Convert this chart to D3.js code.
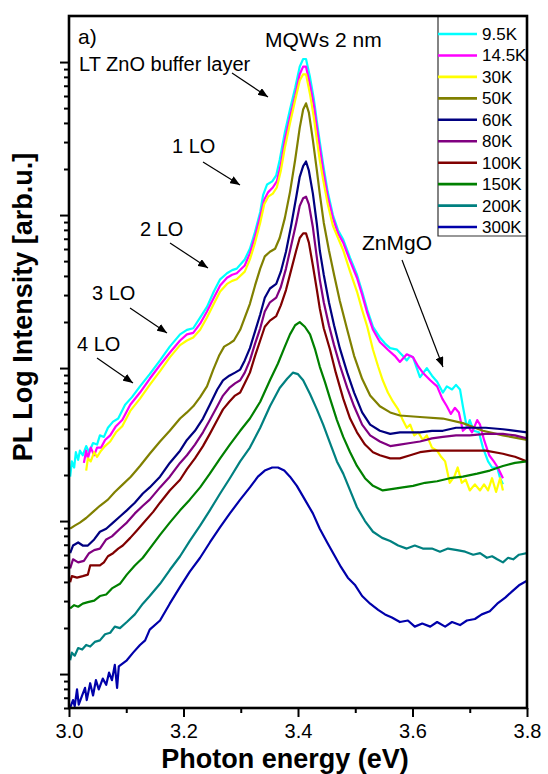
<!DOCTYPE html>
<html>

<head>
    <meta charset="utf-8">
    <title>PL spectra, MQWs 2 nm</title>
    <script src="https://d3js.org/d3.v7.min.js"></script>
    <style>
        body { margin: 0; background: #fff; }
        svg text { font-family: "Liberation Sans", Arial, sans-serif; fill: #000; }
    </style>
</head>

<body>
    <div id="chart"></div>

    <script>
        // legend entries, in the order of the legend
        const temps = ["9.5K", "14.5K", "30K", "50K", "60K", "80K", "100K", "150K", "200K", "300K"];
        const lineColors = ["#00ffff", "#ff00ff", "#ffff00", "#808000", "#000080",
            "#800080", "#800000", "#008000", "#008080", "#0000aa"];

        // spectra: [photon energy (eV), log10 of PL intensity (arb.u.)]
        const s9_5K = [[3.002, 1.29], [3.005, 1.39], [3.009, 1.35], [3.012, 1.45], [3.016, 1.40], [3.019, 1.46],
        [3.024, 1.43], [3.030, 1.49], [3.035, 1.45], [3.042, 1.51], [3.049, 1.50], [3.054, 1.56], [3.061, 1.55],
        [3.068, 1.61], [3.077, 1.65], [3.086, 1.67], [3.098, 1.76], [3.110, 1.81], [3.124, 1.88], [3.141, 1.96],
        [3.159, 2.05], [3.176, 2.14], [3.194, 2.22], [3.206, 2.25], [3.217, 2.26], [3.229, 2.33], [3.241, 2.40],
        [3.253, 2.50], [3.264, 2.58], [3.276, 2.62], [3.285, 2.64], [3.293, 2.65], [3.307, 2.71], [3.316, 2.78],
        [3.325, 2.89], [3.334, 3.02], [3.339, 3.13], [3.346, 3.20], [3.355, 3.22], [3.362, 3.26], [3.368, 3.36],
        [3.377, 3.54], [3.386, 3.69], [3.395, 3.83], [3.403, 3.97], [3.409, 4.02], [3.414, 4.02], [3.421, 3.90],
        [3.428, 3.75], [3.433, 3.61], [3.438, 3.48], [3.444, 3.33], [3.452, 3.15], [3.461, 3.00], [3.470, 2.90],
        [3.479, 2.84], [3.491, 2.72], [3.503, 2.61], [3.512, 2.50], [3.521, 2.38], [3.531, 2.27], [3.543, 2.20],
        [3.552, 2.16], [3.561, 2.13], [3.573, 2.12], [3.583, 2.08], [3.590, 2.05], [3.596, 2.08], [3.601, 2.07],
        [3.613, 1.94], [3.625, 2.00], [3.634, 1.95], [3.643, 1.91], [3.653, 1.84], [3.660, 1.88], [3.669, 1.86],
        [3.676, 1.89], [3.683, 1.86], [3.688, 1.75], [3.695, 1.61], [3.700, 1.66], [3.707, 1.59], [3.716, 1.58],
        [3.723, 1.48], [3.732, 1.39], [3.739, 1.35], [3.748, 1.35], [3.753, 1.28], [3.758, 1.24]];

        const s14_5K = [[3.026, 1.38], [3.030, 1.46], [3.033, 1.41], [3.038, 1.48], [3.044, 1.43], [3.049, 1.48],
        [3.056, 1.48], [3.063, 1.53], [3.072, 1.56], [3.082, 1.62], [3.093, 1.66], [3.107, 1.76], [3.124, 1.84],
        [3.141, 1.93], [3.159, 2.02], [3.176, 2.10], [3.194, 2.18], [3.206, 2.22], [3.217, 2.23], [3.229, 2.29],
        [3.241, 2.37], [3.253, 2.46], [3.264, 2.54], [3.276, 2.59], [3.285, 2.61], [3.293, 2.62], [3.307, 2.67],
        [3.316, 2.75], [3.325, 2.86], [3.334, 2.99], [3.341, 3.10], [3.348, 3.15], [3.356, 3.18], [3.363, 3.22],
        [3.370, 3.33], [3.377, 3.49], [3.386, 3.64], [3.395, 3.78], [3.403, 3.92], [3.409, 3.97], [3.414, 3.97],
        [3.421, 3.85], [3.428, 3.71], [3.433, 3.57], [3.438, 3.44], [3.444, 3.29], [3.452, 3.12], [3.461, 2.98],
        [3.470, 2.88], [3.479, 2.82], [3.491, 2.70], [3.503, 2.59], [3.512, 2.48], [3.521, 2.36], [3.531, 2.25],
        [3.543, 2.17], [3.557, 2.12], [3.569, 2.08], [3.578, 2.04], [3.590, 2.09], [3.601, 2.07], [3.610, 2.01],
        [3.618, 1.97], [3.631, 1.92], [3.643, 1.88], [3.652, 1.80], [3.660, 1.75], [3.667, 1.70], [3.674, 1.74],
        [3.681, 1.71], [3.688, 1.59], [3.697, 1.62], [3.704, 1.58], [3.713, 1.66], [3.718, 1.63], [3.725, 1.53],
        [3.734, 1.43], [3.742, 1.39], [3.749, 1.35], [3.758, 1.28]];

        const s30K = [[3.030, 1.33], [3.033, 1.41], [3.038, 1.39], [3.044, 1.45], [3.049, 1.42], [3.056, 1.46],
        [3.063, 1.49], [3.072, 1.52], [3.082, 1.58], [3.093, 1.62], [3.107, 1.72], [3.124, 1.80], [3.141, 1.89],
        [3.159, 1.98], [3.176, 2.07], [3.194, 2.15], [3.206, 2.18], [3.217, 2.20], [3.229, 2.25], [3.241, 2.33],
        [3.253, 2.42], [3.264, 2.50], [3.276, 2.55], [3.285, 2.57], [3.293, 2.58], [3.307, 2.63], [3.316, 2.71],
        [3.325, 2.82], [3.334, 2.95], [3.341, 3.07], [3.348, 3.12], [3.356, 3.14], [3.363, 3.18], [3.370, 3.29],
        [3.377, 3.44], [3.386, 3.60], [3.395, 3.75], [3.403, 3.88], [3.409, 3.92], [3.414, 3.92], [3.421, 3.79],
        [3.428, 3.63], [3.433, 3.49], [3.438, 3.36], [3.444, 3.23], [3.452, 3.07], [3.461, 2.93], [3.470, 2.85],
        [3.479, 2.77], [3.491, 2.63], [3.503, 2.50], [3.512, 2.38], [3.521, 2.27], [3.531, 2.12], [3.540, 2.01],
        [3.548, 1.92], [3.557, 1.84], [3.566, 1.78], [3.575, 1.73], [3.583, 1.66], [3.590, 1.61], [3.596, 1.63],
        [3.603, 1.56], [3.610, 1.58], [3.618, 1.53], [3.625, 1.56], [3.634, 1.48], [3.643, 1.46], [3.650, 1.42],
        [3.657, 1.39], [3.665, 1.25], [3.673, 1.29], [3.679, 1.35], [3.686, 1.25], [3.693, 1.27], [3.700, 1.20],
        [3.709, 1.24], [3.718, 1.20], [3.725, 1.24], [3.732, 1.20], [3.739, 1.28], [3.746, 1.19], [3.753, 1.28],
        [3.758, 1.20]];

        const s50K = [[3.002, 0.95], [3.010, 0.97], [3.019, 0.99], [3.030, 1.02], [3.042, 1.06], [3.054, 1.10],
        [3.068, 1.14], [3.080, 1.19], [3.094, 1.24], [3.108, 1.29], [3.124, 1.36], [3.141, 1.44], [3.159, 1.52],
        [3.176, 1.59], [3.194, 1.67], [3.206, 1.71], [3.217, 1.75], [3.229, 1.81], [3.241, 1.88], [3.252, 1.99],
        [3.262, 2.08], [3.271, 2.14], [3.280, 2.16], [3.288, 2.18], [3.299, 2.25], [3.307, 2.33], [3.316, 2.42],
        [3.325, 2.54], [3.334, 2.65], [3.342, 2.73], [3.351, 2.76], [3.360, 2.78], [3.368, 2.85], [3.377, 2.98],
        [3.386, 3.15], [3.395, 3.36], [3.403, 3.57], [3.409, 3.69], [3.414, 3.73], [3.419, 3.67], [3.426, 3.49],
        [3.433, 3.29], [3.438, 3.14], [3.445, 2.95], [3.454, 2.77], [3.463, 2.61], [3.473, 2.44], [3.486, 2.25],
        [3.498, 2.08], [3.512, 1.93], [3.526, 1.82], [3.543, 1.75], [3.561, 1.71], [3.578, 1.69], [3.613, 1.68],
        [3.653, 1.67], [3.688, 1.64], [3.723, 1.59], [3.758, 1.56], [3.800, 1.53]];

        const s60K = [[3.002, 0.79], [3.007, 0.84], [3.016, 0.86], [3.024, 0.84], [3.033, 0.84], [3.044, 0.88],
        [3.054, 0.93], [3.065, 0.95], [3.077, 0.99], [3.089, 1.03], [3.101, 1.07], [3.115, 1.12], [3.129, 1.18],
        [3.141, 1.22], [3.159, 1.29], [3.176, 1.38], [3.194, 1.46], [3.206, 1.53], [3.220, 1.59], [3.234, 1.67],
        [3.246, 1.76], [3.259, 1.86], [3.269, 1.92], [3.280, 1.95], [3.290, 1.97], [3.299, 1.99], [3.307, 2.05],
        [3.316, 2.13], [3.325, 2.24], [3.334, 2.35], [3.342, 2.46], [3.351, 2.52], [3.362, 2.55], [3.370, 2.63],
        [3.379, 2.76], [3.388, 2.93], [3.397, 3.12], [3.403, 3.25], [3.409, 3.32], [3.414, 3.35], [3.419, 3.29],
        [3.426, 3.14], [3.433, 2.94], [3.438, 2.77], [3.445, 2.61], [3.454, 2.43], [3.463, 2.28], [3.473, 2.13],
        [3.486, 1.97], [3.498, 1.84], [3.512, 1.71], [3.526, 1.63], [3.543, 1.59], [3.561, 1.57], [3.578, 1.58],
        [3.596, 1.58], [3.613, 1.58], [3.634, 1.59], [3.653, 1.59], [3.676, 1.61], [3.700, 1.61], [3.728, 1.61],
        [3.758, 1.60], [3.800, 1.58]];

        const s80K = [[3.002, 0.69], [3.007, 0.75], [3.016, 0.73], [3.026, 0.74], [3.035, 0.79], [3.044, 0.81],
        [3.054, 0.82], [3.065, 0.88], [3.075, 0.90], [3.089, 0.95], [3.101, 0.99], [3.115, 1.05], [3.129, 1.10],
        [3.141, 1.14], [3.159, 1.22], [3.176, 1.29], [3.194, 1.38], [3.206, 1.43], [3.220, 1.50], [3.234, 1.58],
        [3.246, 1.66], [3.259, 1.75], [3.269, 1.82], [3.280, 1.87], [3.290, 1.90], [3.299, 1.92], [3.307, 1.97],
        [3.316, 2.05], [3.325, 2.16], [3.334, 2.26], [3.342, 2.37], [3.351, 2.43], [3.362, 2.46], [3.370, 2.53],
        [3.379, 2.65], [3.388, 2.80], [3.397, 2.95], [3.403, 3.06], [3.409, 3.11], [3.414, 3.12], [3.419, 3.07],
        [3.426, 2.92], [3.433, 2.72], [3.438, 2.58], [3.445, 2.43], [3.454, 2.28], [3.463, 2.15], [3.473, 2.02],
        [3.486, 1.87], [3.498, 1.75], [3.512, 1.63], [3.526, 1.56], [3.543, 1.52], [3.561, 1.49], [3.578, 1.50],
        [3.596, 1.51], [3.613, 1.52], [3.634, 1.54], [3.653, 1.55], [3.676, 1.56], [3.700, 1.56], [3.728, 1.57],
        [3.758, 1.57], [3.779, 1.56], [3.800, 1.54]];

        const s100K = [[3.002, 0.60], [3.005, 0.64], [3.014, 0.63], [3.024, 0.64], [3.033, 0.65], [3.037, 0.71],
        [3.045, 0.71], [3.054, 0.71], [3.061, 0.73], [3.068, 0.77], [3.077, 0.79], [3.086, 0.82], [3.094, 0.84],
        [3.107, 0.89], [3.119, 0.94], [3.133, 1.00], [3.147, 1.06], [3.159, 1.12], [3.176, 1.20], [3.194, 1.27],
        [3.206, 1.34], [3.220, 1.41], [3.234, 1.49], [3.246, 1.57], [3.259, 1.66], [3.269, 1.73], [3.280, 1.78],
        [3.290, 1.82], [3.299, 1.84], [3.307, 1.90], [3.316, 1.97], [3.325, 2.08], [3.334, 2.18], [3.342, 2.27],
        [3.351, 2.31], [3.362, 2.34], [3.370, 2.41], [3.379, 2.51], [3.388, 2.64], [3.397, 2.77], [3.403, 2.85],
        [3.409, 2.88], [3.414, 2.88], [3.419, 2.82], [3.426, 2.67], [3.433, 2.51], [3.438, 2.39], [3.445, 2.26],
        [3.456, 2.12], [3.466, 1.97], [3.479, 1.80], [3.491, 1.67], [3.503, 1.58], [3.517, 1.50], [3.531, 1.45],
        [3.543, 1.43], [3.561, 1.41], [3.578, 1.41], [3.596, 1.43], [3.613, 1.45], [3.634, 1.46], [3.653, 1.46],
        [3.676, 1.46], [3.700, 1.46], [3.728, 1.46], [3.758, 1.44], [3.779, 1.42], [3.800, 1.39]];

        const s150K = [[3.002, 0.43], [3.009, 0.45], [3.016, 0.44], [3.024, 0.46], [3.033, 0.47], [3.044, 0.48],
        [3.054, 0.51], [3.065, 0.52], [3.075, 0.56], [3.089, 0.59], [3.101, 0.65], [3.115, 0.71], [3.129, 0.76],
        [3.141, 0.82], [3.159, 0.91], [3.176, 0.99], [3.194, 1.07], [3.211, 1.14], [3.229, 1.22], [3.246, 1.31],
        [3.264, 1.41], [3.281, 1.50], [3.299, 1.59], [3.316, 1.67], [3.334, 1.78], [3.351, 1.92], [3.365, 2.03],
        [3.377, 2.14], [3.386, 2.22], [3.395, 2.28], [3.403, 2.30], [3.412, 2.27], [3.421, 2.22], [3.430, 2.12],
        [3.438, 2.01], [3.447, 1.91], [3.456, 1.80], [3.468, 1.66], [3.479, 1.55], [3.491, 1.45], [3.503, 1.36],
        [3.517, 1.28], [3.531, 1.23], [3.548, 1.20], [3.566, 1.21], [3.583, 1.22], [3.601, 1.23], [3.622, 1.25],
        [3.643, 1.26], [3.665, 1.28], [3.688, 1.29], [3.713, 1.31], [3.735, 1.33], [3.758, 1.36], [3.779, 1.38],
        [3.800, 1.39]];

        const s200K = [[3.002, 0.09], [3.005, 0.14], [3.010, 0.12], [3.016, 0.17], [3.023, 0.16], [3.030, 0.19],
        [3.037, 0.18], [3.045, 0.21], [3.054, 0.22], [3.063, 0.26], [3.072, 0.27], [3.080, 0.31], [3.089, 0.30],
        [3.101, 0.34], [3.115, 0.39], [3.129, 0.46], [3.141, 0.51], [3.159, 0.59], [3.176, 0.68], [3.194, 0.77],
        [3.211, 0.87], [3.229, 0.97], [3.246, 1.07], [3.264, 1.18], [3.281, 1.28], [3.299, 1.39], [3.316, 1.48],
        [3.334, 1.61], [3.351, 1.75], [3.368, 1.87], [3.381, 1.93], [3.391, 1.97], [3.400, 1.96], [3.409, 1.92],
        [3.421, 1.83], [3.433, 1.73], [3.444, 1.63], [3.456, 1.51], [3.468, 1.39], [3.479, 1.31], [3.491, 1.20],
        [3.503, 1.09], [3.517, 1.00], [3.531, 0.93], [3.547, 0.89], [3.561, 0.87], [3.575, 0.84], [3.590, 0.82],
        [3.604, 0.84], [3.618, 0.82], [3.634, 0.82], [3.648, 0.80], [3.662, 0.82], [3.678, 0.81], [3.692, 0.80],
        [3.706, 0.78], [3.718, 0.79], [3.730, 0.76], [3.739, 0.77], [3.748, 0.75], [3.758, 0.73], [3.767, 0.76],
        [3.776, 0.75], [3.786, 0.78], [3.800, 0.79]];

        const s300K = [[3.002, -0.22], [3.007, -0.17], [3.010, -0.21], [3.014, -0.10], [3.017, -0.20],
        [3.023, -0.14], [3.028, -0.09], [3.031, -0.17], [3.037, -0.06], [3.042, -0.14], [3.047, -0.04],
        [3.052, -0.10], [3.059, -0.03], [3.065, -0.07], [3.070, 0.01], [3.075, -0.04], [3.080, 0.06],
        [3.084, -0.09], [3.087, 0.05], [3.094, 0.07], [3.101, 0.09], [3.112, 0.14], [3.124, 0.19], [3.133, 0.22],
        [3.141, 0.29], [3.159, 0.35], [3.176, 0.46], [3.194, 0.57], [3.211, 0.67], [3.229, 0.76], [3.246, 0.86],
        [3.264, 0.96], [3.281, 1.05], [3.299, 1.14], [3.316, 1.22], [3.330, 1.29], [3.342, 1.33], [3.355, 1.35],
        [3.365, 1.35], [3.376, 1.33], [3.386, 1.29], [3.398, 1.23], [3.412, 1.14], [3.426, 1.05], [3.438, 0.95],
        [3.451, 0.86], [3.463, 0.78], [3.475, 0.70], [3.487, 0.63], [3.500, 0.58], [3.512, 0.51], [3.526, 0.46],
        [3.540, 0.42], [3.552, 0.39], [3.564, 0.37], [3.578, 0.34], [3.592, 0.35], [3.604, 0.31], [3.617, 0.33],
        [3.631, 0.31], [3.643, 0.34], [3.657, 0.31], [3.669, 0.34], [3.683, 0.32], [3.695, 0.35], [3.709, 0.36],
        [3.721, 0.39], [3.735, 0.41], [3.748, 0.46], [3.762, 0.50], [3.774, 0.54], [3.786, 0.58], [3.800, 0.61]];

        const spectra = [s9_5K, s14_5K, s30K, s50K, s60K, s80K, s100K, s150K, s200K, s300K];

        // axis ticks
        const xMajor = [3.0, 3.2, 3.4, 3.6, 3.8];
        const xMinor = [3.1, 3.3, 3.5, 3.7];
        const yMajor = [1, 10, 100, 1000, 10000];

        // set the dimensions and margins of the graph
        const margin = { top: 16, right: 21, bottom: 66, left: 69 },
            width = 548 - margin.left - margin.right,
            height = 774 - margin.top - margin.bottom;

        const svgRoot = d3.select("#chart")
            .append("svg")
            .attr("width", 548)
            .attr("height", 774);

        svgRoot.append("defs").append("marker")
            .attr("id", "arrow")
            .attr("viewBox", "0 0 10 8")
            .attr("refX", 10)
            .attr("refY", 4)
            .attr("markerWidth", 10)
            .attr("markerHeight", 8)
            .attr("markerUnits", "userSpaceOnUse")
            .attr("orient", "auto")
            .append("path")
            .attr("d", "M0,0L10,4L0,8Z")
            .attr("fill", "#000");

        svgRoot.select("defs").append("clipPath")
            .attr("id", "plotclip")
            .append("rect")
            .attr("width", width)
            .attr("height", height);

        const svg = svgRoot.append("g")
            .attr("transform", `translate(${margin.left}, ${margin.top})`);

        const x = d3.scaleLinear()
            .domain([3.0, 3.8])
            .range([0, width]);

        const y = d3.scaleLog()
            .domain([0.6, 20000])
            .range([height, 0]);

        // minor log ticks 2..9 of each decade inside the domain
        const yMinor = [];
        for (let p = -1; p <= 4; p++) {
            for (let k = 2; k <= 9; k++) {
                const v = k * Math.pow(10, p);
                if (v > 0.6 && v < 20000) yMinor.push(v);
            }
        }

        // X axis
        const xAxisMinor = svg.append("g")
            .attr("transform", `translate(0, ${height})`)
            .call(d3.axisBottom(x).tickValues(xMinor).tickSize(5).tickFormat(""));
        const xAxis = svg.append("g")
            .attr("transform", `translate(0, ${height})`)
            .call(d3.axisBottom(x).tickValues(xMajor).tickSize(9).tickPadding(7).tickFormat(d3.format(".1f")));
        xAxis.selectAll("text").style("font-size", "20px");

        // Y axis (no labels)
        const yAxisMinor = svg.append("g")
            .call(d3.axisLeft(y).tickValues(yMinor).tickSize(5).tickFormat(""));
        const yAxis = svg.append("g")
            .call(d3.axisLeft(y).tickValues(yMajor).tickSize(9).tickFormat(""));

        [xAxisMinor, xAxis, yAxisMinor, yAxis].forEach(a => {
            a.select(".domain").remove();
            a.selectAll("line").attr("stroke", "#000").attr("stroke-width", 2);
        });

        // spectra
        const line = d3.line()
            .x(d => x(d[0]))
            .y(d => y(Math.pow(10, d[1])));

        svg.append("g")
            .attr("clip-path", "url(#plotclip)")
            .selectAll("path")
            .data(spectra)
            .join("path")
            .attr("d", line)
            .attr("fill", "none")
            .attr("stroke", (d, i) => lineColors[i])
            .attr("stroke-width", 2.2)
            .attr("stroke-linejoin", "round");

        // legend
        const legendTop = 34, legendStep = 21.45;
        svg.append("path")
            .attr("d", `M${438 - margin.left},0V${236 - margin.top}H${width}`)
            .attr("fill", "none")
            .attr("stroke", "#333")
            .attr("stroke-width", 1.2);

        const legend = svg.append("g")
            .selectAll("g")
            .data(temps)
            .join("g")
            .attr("transform", (d, i) => `translate(${438 - margin.left}, ${legendTop - margin.top + i * legendStep})`);
        legend.append("line")
            .attr("x1", 0).attr("x2", 39)
            .attr("stroke", (d, i) => lineColors[i])
            .attr("stroke-width", 2.6);
        legend.append("text")
            .attr("x", 44)
            .attr("y", 6)
            .style("font-size", "17px")
            .text(d => d);

        // frame
        svg.append("rect")
            .attr("width", width)
            .attr("height", height)
            .attr("fill", "none")
            .attr("stroke", "#000")
            .attr("stroke-width", 2.6);

        // annotations (page coordinates)
        const notes = svgRoot.append("g").style("font-size", "20px");
        notes.append("text").attr("x", 78).attr("y", 44).style("font-size", "21px").text("a)");
        notes.append("text").attr("x", 265).attr("y", 47).style("font-size", "21px").text("MQWs 2 nm");
        notes.append("text").attr("x", 79).attr("y", 71).text("LT ZnO buffer layer");
        notes.append("text").attr("x", 172).attr("y", 153).text("1 LO");
        notes.append("text").attr("x", 140).attr("y", 236).text("2 LO");
        notes.append("text").attr("x", 92).attr("y", 300).text("3 LO");
        notes.append("text").attr("x", 77).attr("y", 351).text("4 LO");
        notes.append("text").attr("x", 362).attr("y", 250).style("font-size", "21px").text("ZnMgO");

        const arrows = [
            [232, 73, 268, 97],
            [203, 162, 240, 185],
            [170, 243, 208, 268],
            [130, 308, 167, 333],
            [97, 358, 133, 383],
            [402, 260, 443, 367]
        ];
        notes.selectAll("line")
            .data(arrows)
            .join("line")
            .attr("x1", d => d[0]).attr("y1", d => d[1])
            .attr("x2", d => d[2]).attr("y2", d => d[3])
            .attr("stroke", "#000")
            .attr("stroke-width", 1.2)
            .attr("marker-end", "url(#arrow)");

        // axis titles
        svgRoot.append("text")
            .attr("x", 285)
            .attr("y", 768)
            .attr("text-anchor", "middle")
            .style("font-size", "27px")
            .style("font-weight", "bold")
            .text("Photon energy (eV)");

        svgRoot.append("text")
            .attr("transform", "translate(32, 307) rotate(-90)")
            .attr("text-anchor", "middle")
            .style("font-size", "27px")
            .style("font-weight", "bold")
            .text("PL Log Intensity [arb.u.]");
    </script>
</body>

</html>
